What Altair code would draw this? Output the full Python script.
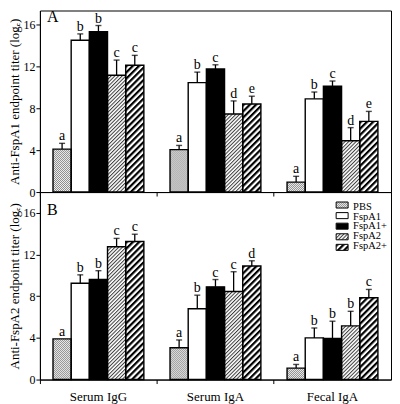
import base64
import altair as alt
import pandas as pd

groups = ["Serum IgG", "Serum IgA", "Fecal IgA"]
series = ["PBS", "FspA1", "FspA1+", "FspA2", "FspA2+"]

# Panel A (anti-FspA1)
a_igg = [4.1, 14.5, 15.3, 11.15, 12.1]
a_igg_err = [0.55, 0.6, 0.6, 1.45, 0.95]
a_igg_let = ["a", "b", "b", "c", "c"]
a_iga = [4.05, 10.45, 11.75, 7.45, 8.4]
a_iga_err = [0.4, 1.0, 0.4, 1.25, 0.75]
a_iga_let = ["a", "b", "c", "d", "e"]
a_fec = [0.95, 8.9, 10.1, 4.9, 6.75]
a_fec_err = [0.55, 0.65, 0.5, 1.25, 0.95]
a_fec_let = ["a", "b", "c", "d", "e"]

# Panel B (anti-FspA2)
b_igg = [3.9, 9.25, 9.6, 12.75, 13.25]
b_igg_err = [0.0, 0.8, 0.85, 0.8, 0.7]
b_igg_let = ["a", "b", "b", "c", "c"]
b_iga = [3.05, 6.8, 8.9, 8.45, 10.9]
b_iga_err = [0.75, 1.3, 0.7, 1.9, 0.5]
b_iga_let = ["a", "b", "c", "c", "d"]
b_fec = [1.1, 4.0, 3.95, 5.15, 7.85]
b_fec_err = [0.35, 0.95, 1.65, 1.4, 0.8]
b_fec_let = ["a", "b", "b", "b", "c"]

y_ticks = [0, 4, 8, 12, 16]
SERIF = "Liberation Serif"


def svg_uri(inner):
    svg = f"<svg xmlns='http://www.w3.org/2000/svg'>{inner}</svg>"
    return "data:image/svg+xml;base64," + base64.b64encode(svg.encode()).decode()


def hatch(period, line_w, color, bg="white"):
    return svg_uri(
        f"<defs><pattern id='p' patternUnits='userSpaceOnUse' width='{period}' height='{period}' "
        f"patternTransform='rotate(45)'><rect width='{period}' height='{period}' fill='{bg}'/>"
        f"<rect width='{line_w}' height='{period}' fill='{color}'/></pattern></defs>"
        "<rect width='100%' height='100%' fill='url(#p)'/>")


stipple = svg_uri(
    "<defs><pattern id='p' patternUnits='userSpaceOnUse' width='2' height='2'>"
    "<rect width='2' height='2' fill='#f2f2f2'/><rect width='1' height='1' fill='#8a8a8a'/>"
    "<rect x='1' y='1' width='1' height='1' fill='#8a8a8a'/></pattern></defs>"
    "<rect width='100%' height='100%' fill='url(#p)'/>")
plain_white = svg_uri("<rect width='100%' height='100%' fill='white'/>")
plain_black = svg_uri("<rect width='100%' height='100%' fill='black'/>")
urls = [stipple, plain_white, plain_black, hatch(2.6, 1.0, "#3a3a3a"), hatch(4.4, 2.2, "black")]
fallback = ["#c4c4c4", "white", "black", "#9a9a9a", "#7a7a7a"]


def make_df(vals, errs, lets):
    rows = []
    for g, v, e, l in zip(groups, vals, errs, lets):
        for s, vv, ee, ll, u in zip(series, v, e, l, urls):
            rows.append({"group": g, "series": s, "value": vv, "err": ee,
                         "top": vv + ee, "letter": ll, "url": u})
    return pd.DataFrame(rows)


df_a = make_df([a_igg, a_iga, a_fec], [a_igg_err, a_iga_err, a_fec_err], [a_igg_let, a_iga_let, a_fec_let])
df_b = make_df([b_igg, b_iga, b_fec], [b_igg_err, b_iga_err, b_fec_err], [b_igg_let, b_iga_let, b_fec_let])

W = 352


def panel(df, ymax, height, title, letter, letter_y, bottom):
    x_axis = alt.Axis(title=None, bandPosition=0, tickSize=4, labels=bottom,
                      labelPadding=7, labelFontSize=13, labelAngle=0)
    x = alt.X("group:N", sort=groups, scale=alt.Scale(paddingInner=0, paddingOuter=0), axis=x_axis)
    xo = alt.XOffset("series:N", sort=series, scale=alt.Scale(paddingInner=0, paddingOuter=0.72))
    yscale = alt.Scale(domain=[0, ymax], nice=False, zero=True)
    y_axis = alt.Axis(values=y_ticks, tickSize=4, labelPadding=1, labelFontSize=12,
                      title=title, titleFontSize=13, titleFontWeight="normal", titlePadding=1)

    def Y(field):
        return alt.Y(field, scale=yscale, axis=y_axis, title=title)

    base = alt.Chart(df)
    fill = base.mark_bar().encode(
        x=x, xOffset=xo, y=Y("value:Q"),
        fill=alt.Fill("series:N", scale=alt.Scale(domain=series, range=fallback), legend=None))
    img = base.mark_image(aspect=False).encode(
        x=x, xOffset=xo, y=Y("value:Q"), y2=alt.datum(0), url=alt.Url("url:N"))
    outline = base.mark_bar(fillOpacity=0, stroke="black", strokeWidth=1.4).encode(
        x=x, xOffset=xo, y=Y("value:Q"))
    errs = base.transform_filter("datum.err > 0")
    rule = errs.mark_rule(color="black", strokeWidth=1.3).encode(
        x=x, xOffset=xo, y=Y("value:Q"), y2="top:Q")
    cap = errs.mark_tick(orient="horizontal", size=6, thickness=1.4, color="black").encode(
        x=x, xOffset=xo, y=Y("top:Q"))
    text = base.mark_text(font=SERIF, fontSize=14, baseline="alphabetic", dy=-3,
                          fill="#000000").encode(
        x=x, xOffset=xo, y=Y("top:Q"), text="letter:N")
    tag = alt.Chart(pd.DataFrame({"t": [letter]})).mark_text(
        font=SERIF, fontSize=16, align="left", baseline="middle", fill="#000000").encode(
        text="t:N", x=alt.value(7), y=alt.value(letter_y))
    layers = [fill, img, outline, rule, cap, text, tag]
    inner = alt.layer(*layers)
    if bottom:
        leg_df = pd.DataFrame({"series": series, "url": urls})
        ly = alt.Y("series:N", sort=series, axis=None,
                   scale=alt.Scale(domain=series, range=[10, 58.5], paddingInner=0.43, paddingOuter=0))
        leg_img = alt.Chart(leg_df).mark_image(aspect=False).encode(
            x=alt.value(W - 55), x2=alt.value(W - 43), y=ly, url=alt.Url("url:N"))
        leg_box = alt.Chart(leg_df).mark_rect(fillOpacity=0, stroke="black", strokeWidth=1).encode(
            x=alt.value(W - 55), x2=alt.value(W - 43), y=ly)
        leg_txt = alt.Chart(leg_df).mark_text(font=SERIF, fontSize=10.5, align="left",
                                              baseline="middle", fill="#000000").encode(
            x=alt.value(W - 38), y=ly, text="series:N")
        inner = alt.layer(inner, leg_img, leg_box, leg_txt).resolve_scale(y="independent")
    return inner.properties(width=W, height=height)


top = panel(df_a, 182 / 10.5, 182, "Anti-FspA1 endpoint titer (log\u2091)", "A", 7, False)
bottom = panel(df_b, 18, 188, "Anti-FspA2 endpoint titer (log\u2091)", "B", 18, True)

chart = alt.vconcat(top, bottom, spacing=0, bounds="flush").properties(
    padding={"left": 0, "top": 0, "right": 0, "bottom": 0}
).configure_view(stroke="black", strokeWidth=1).configure_axis(
    grid=False, domainColor="black", tickColor="black", labelColor="black",
    titleColor="black", labelFont=SERIF, titleFont=SERIF, domainWidth=1, tickWidth=1
)

chart.save("out.html", embed_options={"renderer": "svg", "actions": False})
